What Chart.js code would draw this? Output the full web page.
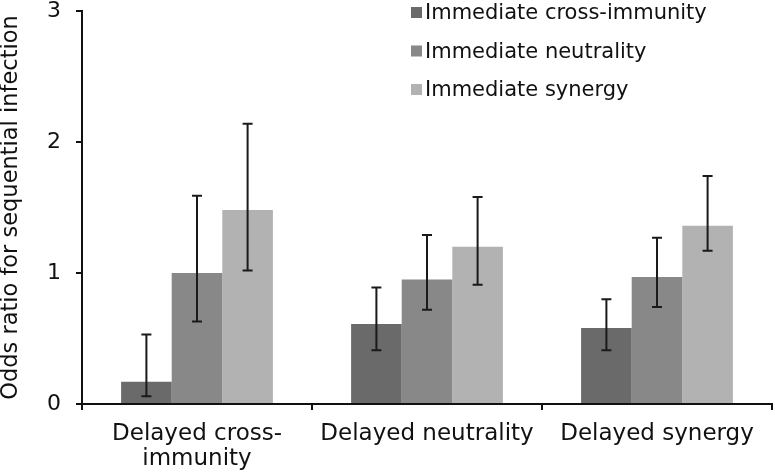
<!DOCTYPE html>
<html>
<head>
<meta charset="utf-8">
<script src="https://cdn.jsdelivr.net/npm/chart.js@4"></script>
<style>
  html, body { margin: 0; padding: 0; background: #fff; }
  #wrap { width: 775px; height: 475px; }
</style>
</head>
<body>
<div id="wrap"><canvas id="chart1" width="775" height="475"></canvas></div>
<script>
// categories and series
const categories = [["Delayed cross-", "immunity"], "Delayed neutrality", "Delayed synergy"];
const seriesNames = ["Immediate cross-immunity", "Immediate neutrality", "Immediate synergy"];

// odds ratios
const crossImmunity = [0.17, 0.61, 0.58];
const neutrality = [1.0, 0.95, 0.97];
const synergy = [1.48, 1.2, 1.36];

// error bar ends
const crossImmunityLow = [0.06, 0.41, 0.41];
const crossImmunityHigh = [0.53, 0.89, 0.8];
const neutralityLow = [0.63, 0.72, 0.74];
const neutralityHigh = [1.59, 1.29, 1.27];
const synergyLow = [1.02, 0.91, 1.17];
const synergyHigh = [2.14, 1.58, 1.74];

const yTicks = [0, 1, 2, 3];

const colors = ["#6a6a6a", "#888888", "#b2b2b2"];
const FONT = "'DejaVu Sans', Verdana, sans-serif";

const errLow = [crossImmunityLow, neutralityLow, synergyLow];
const errHigh = [crossImmunityHigh, neutralityHigh, synergyHigh];

// draws the whiskers from the low/high arrays through the y scale
const errorBars = {
  id: "errorBars",
  afterDatasetsDraw(chart) {
    const ctx = chart.ctx;
    const y = chart.scales.y;
    ctx.save();
    ctx.strokeStyle = "#1a1a1a";
    ctx.lineWidth = 2;
    chart.data.datasets.forEach((ds, i) => {
      const meta = chart.getDatasetMeta(i);
      meta.data.forEach((bar, j) => {
        const top = y.getPixelForValue(errHigh[i][j]);
        const bot = y.getPixelForValue(errLow[i][j]);
        const x = bar.x;
        ctx.beginPath();
        ctx.moveTo(x, top); ctx.lineTo(x, bot);
        ctx.moveTo(x - 5, top); ctx.lineTo(x + 5, top);
        ctx.moveTo(x - 5, bot); ctx.lineTo(x + 5, bot);
        ctx.stroke();
      });
    });
    ctx.restore();
  }
};

// legend drawn in the top right corner of the plot
const cornerLegend = {
  id: "cornerLegend",
  afterDraw(chart) {
    const ctx = chart.ctx;
    ctx.save();
    ctx.font = "21px " + FONT;
    ctx.textBaseline = "alphabetic";
    chart.data.datasets.forEach((ds, i) => {
      const base = 19 + i * 38.5;
      ctx.fillStyle = ds.backgroundColor;
      ctx.fillRect(411, base - 12, 11, 11);
      ctx.fillStyle = "#111";
      ctx.fillText(ds.label, 425, base);
    });
    ctx.restore();
  }
};

const chartData = {
  labels: categories,
  datasets: [
    { label: seriesNames[0], data: crossImmunity, backgroundColor: colors[0] },
    { label: seriesNames[1], data: neutrality, backgroundColor: colors[1] },
    { label: seriesNames[2], data: synergy, backgroundColor: colors[2] },
  ],
};

new Chart(document.getElementById("chart1").getContext("2d"), {
  type: "bar",
  data: chartData,
  options: {
    responsive: false,
    animation: false,
    devicePixelRatio: 1,
    layout: { padding: { top: 0, right: 3, left: 0, bottom: 0 } },
    datasets: { bar: { categoryPercentage: 0.66, barPercentage: 1.0 } },
    plugins: {
      legend: { display: false },
      tooltip: { enabled: false },
    },
    scales: {
      x: {
        grid: { display: true, drawOnChartArea: false, drawTicks: true, tickLength: 6, color: "#111", lineWidth: 2, offset: true },
        border: { display: true, color: "#111", width: 2 },
        ticks: { color: "#111", font: { family: FONT, size: 23, lineHeight: 1.1 }, padding: 11, maxRotation: 0, autoSkip: false },
        afterFit(scale) { scale.height = 475 - 404; },
      },
      y: {
        min: 0,
        max: 3,
        afterBuildTicks(scale) { scale.ticks = yTicks.map(v => ({ value: v })); },
        grid: { display: true, drawOnChartArea: false, drawTicks: true, tickLength: 6, color: "#111", lineWidth: 2 },
        border: { display: true, color: "#111", width: 2 },
        ticks: { color: "#111", font: { family: FONT, size: 22 }, padding: 15 },
        title: {
          display: true,
          text: "Odds ratio for sequential infection",
          color: "#111",
          font: { family: FONT, size: 22.5, lineHeight: 1 },
          padding: 0,
        },
        afterFit(scale) {
          scale.width = 82;
          scale.paddingTop = 11;
          scale.paddingBottom = 0;
        },
      },
    },
  },
  plugins: [errorBars, cornerLegend],
});
</script>
</body>
</html>
